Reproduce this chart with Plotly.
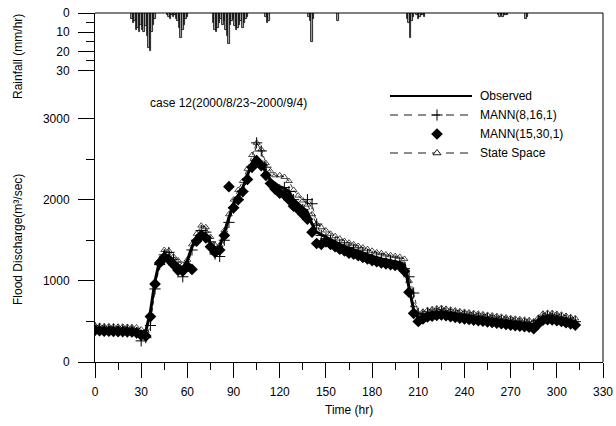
import plotly.graph_objects as go

# ---------------- data ----------------
hours = list(range(0, 313, 3))

observed = [410, 405, 400, 400, 398, 395, 395, 393, 390, 385, 370, 380, 620, 1000, 1250, 1330, 1300, 1240,
            1200, 1150, 1250, 1420, 1530, 1600, 1570, 1460, 1380, 1420, 1600, 1780, 1950, 2050, 2150, 2300,
            2450, 2520, 2450, 2330, 2240, 2200, 2160, 2140, 2100, 2000, 1950, 1900, 1850, 1700, 1600, 1570,
            1540, 1500, 1470, 1440, 1420, 1400, 1380, 1365, 1340, 1320, 1300, 1285, 1270, 1260, 1245, 1235,
            1225, 1190, 900, 640, 540, 575, 595, 605, 615, 620, 610, 600, 590, 580, 572, 565, 557, 550, 543,
            535, 528, 520, 512, 503, 495, 488, 482, 476, 470, 455, 520, 555, 562, 560, 550, 540, 525, 510, 495]

mann_8_16_1 = [420, 410, 405, 400, 400, 398, 395, 395, 390, 360, 260, 300, 450, 900, 1200, 1320, 1350, 1260,
               1170, 1050, 1180, 1380, 1500, 1620, 1600, 1480, 1330, 1300, 1500, 1720, 1900, 2000, 2100, 2250,
               2400, 2700, 2600, 2400, 2200, 2150, 2120, 2150, 2100, 2000, 1900, 1880, 2000, 1950, 1700, 1560,
               1520, 1500, 1470, 1450, 1430, 1410, 1390, 1370, 1345, 1325, 1300, 1290, 1275, 1265, 1250, 1240,
               1230, 1150, 1050, 850, 600, 580, 600, 610, 618, 622, 612, 602, 592, 582, 574, 566, 558, 551, 544,
               536, 529, 521, 513, 504, 496, 489, 483, 477, 471, 460, 510, 555, 564, 562, 552, 542, 527, 512, 497]

mann_15_30_1 = [390, 385, 380, 380, 378, 375, 375, 372, 370, 360, 330, 320, 560, 960, 1220, 1290, 1260, 1200,
                1130, 1120, 1180, 1140, 1490, 1560, 1530, 1420, 1350, 1380, 1560, 2160, 1900, 2000, 2100, 2250,
                2400, 2480, 2420, 2300, 2200, 2130, 2080, 2060, 2000, 1920, 1880, 1820, 1760, 1600, 1460, 1450,
                1480, 1450, 1420, 1390, 1370, 1340, 1330, 1310, 1290, 1270, 1250, 1235, 1220, 1210, 1200, 1190,
                1180, 1120, 860, 600, 500, 530, 555, 565, 575, 580, 570, 560, 550, 540, 532, 525, 517, 510, 503,
                495, 488, 480, 472, 463, 455, 448, 442, 436, 430, 410, 470, 515, 522, 520, 510, 500, 485, 470, 455]

state_space = [450, 445, 440, 440, 438, 435, 435, 432, 430, 425, 400, 380, 560, 980, 1260, 1380, 1370, 1300,
               1250, 1200, 1260, 1450, 1580, 1680, 1660, 1540, 1440, 1440, 1620, 1820, 2000, 2120, 2230, 2380,
               2550, 2700, 2620, 2450, 2350, 2300, 2300, 2280, 2230, 2120, 2050, 1990, 1940, 1820, 1700, 1660,
               1620, 1580, 1550, 1520, 1490, 1470, 1450, 1430, 1410, 1390, 1370, 1350, 1340, 1325, 1315, 1305,
               1295, 1270, 1000, 700, 600, 620, 640, 650, 660, 665, 655, 645, 635, 625, 617, 610, 602, 595, 588,
               580, 573, 565, 557, 548, 540, 533, 527, 521, 515, 500, 545, 595, 605, 603, 593, 583, 568, 553, 538]

rain_hours = [24, 25, 26, 27, 28, 29, 30, 31, 32, 33, 34, 35, 36, 37, 38, 39,
              47, 48, 49, 50, 51, 52, 53, 54, 55, 56, 57, 58, 59, 60,
              77, 78, 79, 80, 81, 82, 83, 84, 85, 86, 87, 88, 89, 90, 91, 92, 93, 94, 95, 96, 97, 98, 99,
              111, 112, 113, 139, 140, 141, 142, 158,
              203, 204, 205, 206, 207, 209, 210, 211, 212, 213, 214,
              262, 263, 264, 265, 266, 267, 268, 280, 281]
rain_mm = [3, 5, 4, 9, 8, 10, 6, 9, 10, 7, 12, 18, 20, 10, 6, 3,
           1, 2, 3, 1, 2, 1, 3, 4, 8, 13, 9, 6, 3, 2,
           5, 9, 10, 8, 5, 3, 6, 4, 9, 12, 16, 6, 4, 3, 7, 9, 8, 6, 4, 8, 5, 3, 2,
           2, 5, 4, 2, 4, 15, 3, 4,
           3, 5, 13, 4, 2, 1, 3, 2, 1, 1, 2,
           1, 2, 1, 2, 1, 1, 1, 3, 2]

x_ticks = [0, 30, 60, 90, 120, 150, 180, 210, 240, 270, 300, 330]
q_ticks = [0, 1000, 2000, 3000]
r_ticks = [0, 10, 20, 30]

legend_names = ["Observed", "MANN(8,16,1)", "MANN(15,30,1)", "State Space"]

# ---------------- figure ----------------
FONT = "Liberation Sans, Arial, sans-serif"
fig = go.Figure()

fig.add_trace(go.Bar(x=rain_hours, y=rain_mm, xaxis="x", yaxis="y2", width=1,
                     marker=dict(color="#a8a8a8", line=dict(color="black", width=0.8)),
                     showlegend=False))

fig.add_trace(go.Scatter(x=hours, y=state_space, mode="lines+markers",
                         line=dict(color="black", width=0.8, dash="4px,3px"),
                         marker=dict(symbol="triangle-up-open", size=6, color="black", line=dict(width=0.7)),
                         showlegend=False))
fig.add_trace(go.Scatter(x=hours, y=mann_8_16_1, mode="lines+markers",
                         line=dict(color="black", width=0.8, dash="4px,3px"),
                         marker=dict(symbol="cross-thin", size=8, color="black", line=dict(width=1, color="black")),
                         showlegend=False))
fig.add_trace(go.Scatter(x=hours, y=mann_15_30_1, mode="markers",
                         marker=dict(symbol="diamond", size=9, color="black"),
                         showlegend=False))
fig.add_trace(go.Scatter(x=hours, y=observed, mode="lines",
                         line=dict(color="black", width=3),
                         showlegend=False))

# custom legend drawn on a pixel-scaled helper subplot
leg_rows = [96, 115, 134, 153]
leg_x0, leg_x1, leg_mid = 390, 472, 437
fig.add_trace(go.Scatter(x=[leg_x0, leg_x1], y=[leg_rows[0]] * 2, xaxis="x3", yaxis="y3", mode="lines",
                         line=dict(color="black", width=2.2), showlegend=False, hoverinfo="skip"))
fig.add_trace(go.Scatter(x=[leg_x0, leg_x1], y=[leg_rows[1]] * 2, xaxis="x3", yaxis="y3", mode="lines",
                         line=dict(color="black", width=0.9, dash="8px,6px"), showlegend=False, hoverinfo="skip"))
fig.add_trace(go.Scatter(x=[leg_mid], y=[leg_rows[1]], xaxis="x3", yaxis="y3", mode="markers",
                         marker=dict(symbol="cross-thin", size=8, color="black",
                                     line=dict(width=1, color="black")),
                         showlegend=False, hoverinfo="skip"))
fig.add_trace(go.Scatter(x=[leg_mid], y=[leg_rows[2]], xaxis="x3", yaxis="y3", mode="markers",
                         marker=dict(symbol="diamond", size=9, color="black"),
                         showlegend=False, hoverinfo="skip"))
fig.add_trace(go.Scatter(x=[leg_x0, leg_x1], y=[leg_rows[3]] * 2, xaxis="x3", yaxis="y3", mode="lines",
                         line=dict(color="black", width=0.9, dash="8px,6px"), showlegend=False, hoverinfo="skip"))
fig.add_trace(go.Scatter(x=[leg_mid], y=[leg_rows[3]], xaxis="x3", yaxis="y3", mode="markers",
                         marker=dict(symbol="triangle-up", size=7, color="white",
                                     line=dict(width=0.9, color="black")),
                         showlegend=False, hoverinfo="skip"))

annotations = []
for name, ry in zip(legend_names, leg_rows):
    annotations.append(dict(x=478, y=ry, xref="x3", yref="y3", text=name, showarrow=False,
                            xanchor="left", yanchor="middle", font=dict(size=12, color="black", family=FONT)))

annotations.append(dict(x=(228 - 95) / 508, y=(362 - 103) / 349, xref="paper", yref="paper",
                        text="case 12(2000/8/23~2000/9/4)", showarrow=False,
                        xanchor="center", yanchor="middle",
                        font=dict(size=12, color="black", family=FONT)))
annotations.append(dict(x=(18 - 95) / 508, y=(362 - 240) / 349, xref="paper", yref="paper",
                        text="Flood Discharge(m³/sec)", textangle=-90, showarrow=False,
                        xanchor="center", yanchor="middle",
                        font=dict(size=12, color="black", family=FONT)))
annotations.append(dict(x=(18 - 95) / 508, y=(362 - 57) / 349, xref="paper", yref="paper",
                        text="Rainfall (mm/hr)", textangle=-90, showarrow=False,
                        xanchor="center", yanchor="middle",
                        font=dict(size=12, color="black", family=FONT)))
annotations.append(dict(x=0.5, y=(362 - 410) / 349, xref="paper", yref="paper",
                        text="Time (hr)", showarrow=False, xanchor="center", yanchor="middle",
                        font=dict(size=12, color="black", family=FONT)))

split = (362 - 118.5) / 349

fig.update_layout(
    width=616, height=426,
    margin=dict(l=95, r=13, t=13, b=64, autoexpand=False),
    paper_bgcolor="white", plot_bgcolor="rgba(0,0,0,0)",
    font=dict(family=FONT, size=12, color="black"),
    bargap=0,
    xaxis=dict(domain=[0, 1], range=[0, 330], tickvals=x_ticks, ticks="outside", ticklen=15,
               tickwidth=1, tickcolor="black", showline=True, linecolor="black", linewidth=1,
               showgrid=False, zeroline=False, anchor="y", ticklabelstandoff=4, automargin=False,
               minor=dict(tickvals=[15 + 30 * i for i in range(11)], ticks="outside", ticklen=7,
                          tickcolor="black", tickwidth=1),
               tickfont=dict(size=12, family=FONT)),
    yaxis=dict(domain=[0, split], range=[0, 3000], tickvals=q_ticks, ticks="outside", ticklen=16,
               tickwidth=1, tickcolor="black", showline=True, linecolor="black", linewidth=1,
               showgrid=False, zeroline=False, anchor="x", ticklabelstandoff=6, automargin=False,
               minor=dict(tickvals=[500, 1500, 2500], ticks="outside", ticklen=8,
                          tickcolor="black", tickwidth=1),
               tickfont=dict(size=12, family=FONT)),
    yaxis2=dict(domain=[split, 1], range=[55, 0], tickvals=r_ticks, ticks="outside", ticklen=16,
                tickwidth=1, tickcolor="black", showline=True, linecolor="black", linewidth=1,
                showgrid=False, zeroline=False, anchor="x", ticklabelstandoff=6, automargin=False,
                minor=dict(tickvals=[5, 15, 25], ticks="outside", ticklen=8,
                           tickcolor="black", tickwidth=1),
                tickfont=dict(size=12, family=FONT)),
    xaxis3=dict(domain=[0, 1], range=[95, 603], visible=False, anchor="y3", fixedrange=True,
                automargin=False),
    yaxis3=dict(domain=[0, 1], range=[362, 13], visible=False, anchor="x3", fixedrange=True,
                automargin=False),
    annotations=annotations,
    shapes=[
        dict(type="line", xref="paper", yref="paper", x0=0, x1=1, y0=1, y1=1,
             line=dict(color="black", width=1)),
        dict(type="line", xref="paper", yref="paper", x0=1, x1=1, y0=0, y1=1,
             line=dict(color="black", width=1)),
    ],
    showlegend=False,
)

fig.write_html("out.html", config={"displayModeBar": False},
               post_script="document.body.style.margin='0';document.body.style.padding='0';")
